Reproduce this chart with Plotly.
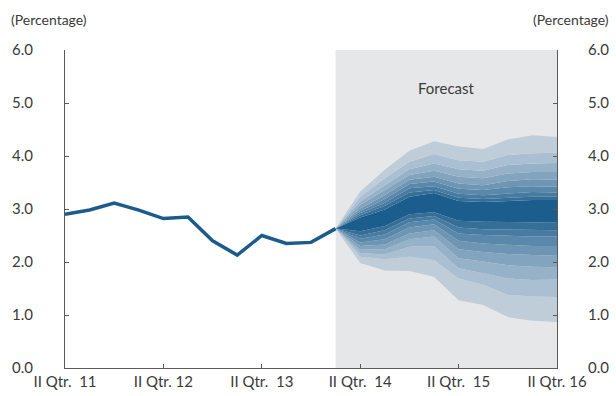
import plotly.graph_objects as go

# quarter index 0 = II Qtr. 2011 ... 20 = II Qtr. 2016
hist_q = list(range(12))
hist_val = [2.90, 2.98, 3.11, 2.98, 2.82, 2.85, 2.40, 2.13, 2.50, 2.35, 2.37, 2.63]

fc_q = list(range(11, 21))
p05 = [2.63, 1.98, 1.84, 1.83, 1.72, 1.28, 1.19, 0.96, 0.89, 0.87]
p10 = [2.63, 2.10, 2.05, 2.10, 2.04, 1.69, 1.57, 1.38, 1.35, 1.34]
p15 = [2.63, 2.17, 2.14, 2.29, 2.30, 1.88, 1.79, 1.69, 1.66, 1.67]
p20 = [2.63, 2.23, 2.24, 2.43, 2.48, 2.07, 2.01, 1.94, 1.91, 1.90]
p25 = [2.63, 2.30, 2.33, 2.54, 2.60, 2.24, 2.19, 2.15, 2.13, 2.12]
p30 = [2.63, 2.37, 2.43, 2.65, 2.71, 2.40, 2.35, 2.32, 2.30, 2.30]
p35 = [2.63, 2.44, 2.52, 2.75, 2.80, 2.54, 2.51, 2.49, 2.48, 2.48]
p40 = [2.63, 2.50, 2.60, 2.82, 2.87, 2.65, 2.62, 2.61, 2.60, 2.60]
p45 = [2.63, 2.58, 2.68, 2.90, 2.94, 2.78, 2.76, 2.75, 2.75, 2.74]
p55 = [2.63, 2.84, 2.99, 3.23, 3.30, 3.15, 3.13, 3.15, 3.17, 3.17]
p60 = [2.63, 2.88, 3.06, 3.31, 3.36, 3.21, 3.19, 3.21, 3.23, 3.23]
p65 = [2.63, 2.92, 3.12, 3.39, 3.43, 3.29, 3.26, 3.29, 3.32, 3.31]
p70 = [2.63, 2.96, 3.19, 3.47, 3.52, 3.38, 3.36, 3.41, 3.43, 3.42]
p75 = [2.63, 3.01, 3.26, 3.55, 3.61, 3.48, 3.45, 3.53, 3.56, 3.55]
p80 = [2.63, 3.08, 3.36, 3.64, 3.72, 3.61, 3.58, 3.67, 3.70, 3.70]
p85 = [2.63, 3.14, 3.45, 3.75, 3.86, 3.75, 3.72, 3.83, 3.86, 3.87]
p90 = [2.63, 3.23, 3.58, 3.89, 4.04, 3.92, 3.89, 4.02, 4.05, 4.06]
p95 = [2.63, 3.33, 3.74, 4.10, 4.28, 4.18, 4.13, 4.31, 4.39, 4.36]

tick_q = [0, 4, 8, 12, 16, 20]
tick_labels = ["II Qtr.\u00a0 11", "II Qtr. 12", "II Qtr.\u00a0 13",
               "II Qtr.\u00a0 14", "II Qtr.\u00a0 15", "II Qtr. 16"]
y_ticks = [0, 1, 2, 3, 4, 5, 6]

# shades from the outer band (lightest) inwards; index 8 = central band
shades = ["#bfcdd9", "#aac0d2", "#96b2c8", "#82a4be", "#6e96b4",
          "#5a88aa", "#477ba1", "#356f98", "#1b5e8e"]

bounds = [p05, p10, p15, p20, p25, p30, p35, p40, p45,
          p55, p60, p65, p70, p75, p80, p85, p90, p95]
band_shade = [0, 1, 2, 3, 4, 5, 6, 7, 8, 7, 6, 5, 4, 3, 2, 1, 0]

FONT = "Lato, 'Open Sans', sans-serif"
TXT = "#3a3a3a"
AX = "#5a5a5a"

fig = go.Figure()
fig.add_vrect(x0=11, x1=20, fillcolor="#e6e7e9", line_width=0, layer="below")

fig.add_trace(go.Scatter(x=fc_q, y=bounds[0], mode="lines", line={"width": 0},
                         showlegend=False, hoverinfo="skip"))
for i, b in enumerate(bounds[1:]):
    fig.add_trace(go.Scatter(x=fc_q, y=b, mode="lines", line={"width": 0},
                             fill="tonexty", fillcolor=shades[band_shade[i]],
                             showlegend=False, hoverinfo="skip"))

fig.add_trace(go.Scatter(x=hist_q, y=hist_val, mode="lines",
                         line={"color": "#1c5b8c", "width": 3.5},
                         showlegend=False))
# invisible trace to activate the right-hand axis
fig.add_trace(go.Scatter(x=[0], y=[0], yaxis="y2", mode="markers",
                         marker={"opacity": 0}, showlegend=False, hoverinfo="skip"))

axis_common = dict(showgrid=False, zeroline=False, showline=True, linecolor=AX,
                   linewidth=1, ticks="inside", ticklen=4, tickcolor=AX,
                   automargin=False,
                   tickfont={"family": FONT, "size": 15, "color": TXT})

fig.update_layout(
    width=616, height=396,
    margin={"l": 65, "r": 59, "t": 50, "b": 28},
    plot_bgcolor="white", paper_bgcolor="white",
    xaxis=dict(axis_common, range=[0, 20], tickvals=tick_q, ticktext=tick_labels,
               ticklabelstandoff=0),
    yaxis=dict(axis_common, range=[0, 6], tickvals=y_ticks, tickformat=".1f",
               ticklabelstandoff=28),
    yaxis2=dict(axis_common, range=[0, 6], tickvals=y_ticks, tickformat=".1f",
                overlaying="y", side="right", ticklabelstandoff=27),
    annotations=[
        dict(text="(Percentage)", xref="paper", yref="paper", x=-0.114, y=1.062,
             xanchor="left", yanchor="bottom", showarrow=False,
             font={"family": FONT, "size": 14, "color": TXT}),
        dict(text="(Percentage)", xref="paper", yref="paper", x=1.11, y=1.062,
             xanchor="right", yanchor="bottom", showarrow=False,
             font={"family": FONT, "size": 14, "color": TXT}),
        dict(text="Forecast", x=15.5, y=5.28, showarrow=False,
             font={"family": FONT, "size": 15, "color": TXT}),
    ],
)

# drop the default page margin so the figure fills the window exactly
fig.write_html("out.html", config={"displayModeBar": False},
               post_script="document.body.style.margin = '0';")
